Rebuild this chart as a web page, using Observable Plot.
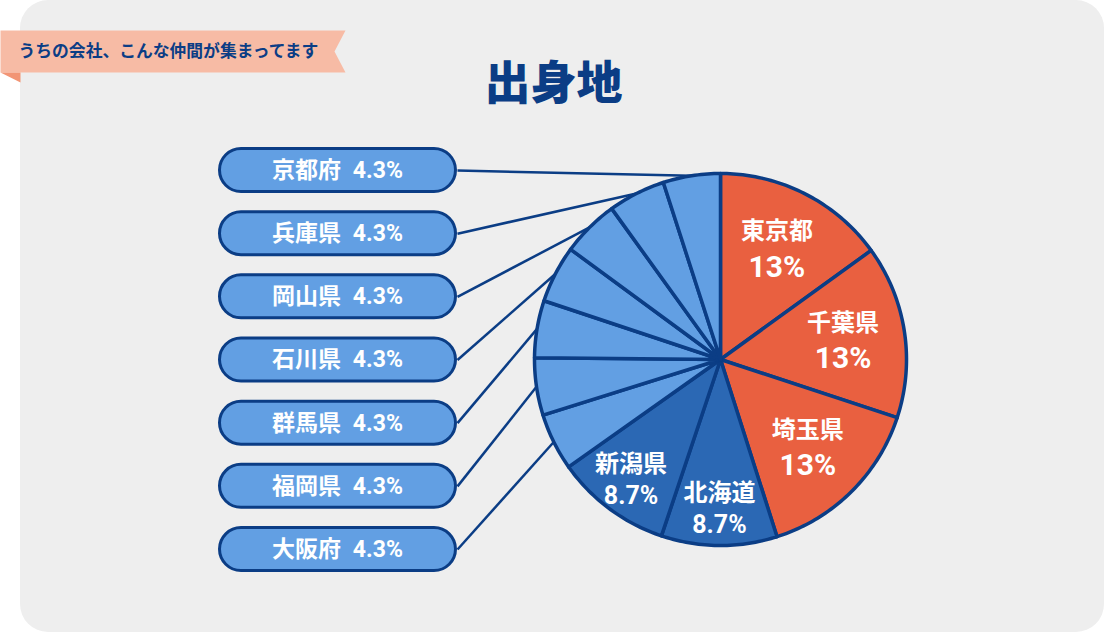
<!DOCTYPE html>
<html><head><meta charset="utf-8">
<script src="https://cdn.jsdelivr.net/npm/d3@7"></script>
<script src="https://cdn.jsdelivr.net/npm/@observablehq/plot@0.6"></script>
<style>html,body{margin:0;padding:0;background:#fff;} #chart svg{display:block}</style>
</head><body><div id="chart"></div>
<script>
// ---- data ----
const prefectures = ["東京都","千葉県","埼玉県","北海道","新潟県","大阪府","福岡県","群馬県","石川県","岡山県","兵庫県","京都府"];
const shares      = [13, 13, 13, 8.7, 8.7, 4.3, 4.3, 4.3, 4.3, 4.3, 4.3, 4.3];
const tiers       = ["top","top","top","mid","mid","minor","minor","minor","minor","minor","minor","minor"];
const calloutOrder = ["京都府","兵庫県","岡山県","石川県","群馬県","福岡県","大阪府"];
const title = "出身地";
const tagline = "うちの会社、こんな仲間が集まってます";

// ---- style / layout ----
const W = 1104, H = 632;
const navy = "#0b3d85";
const tierColors = {top: "#e96040", mid: "#2b68b4", minor: "#629fe3"};
const cx = 720, cy = 359, R = 186;
const labelRadius = {top: 124, mid: 150};
const font = "'Noto Sans CJK JP', 'Noto Sans', sans-serif";
const mixFont = "Roboto, 'Noto Sans CJK JP', sans-serif";

const data = prefectures.map((name, i) => ({name, share: shares[i], tier: tiers[i]}));
const arcs = d3.pie().sort(null).value(d => d.share)(data);
const polar = (a, r) => ({x: cx + r * Math.sin(a), y: cy - r * Math.cos(a)});

// slice polygons
const slicePts = arcs.flatMap((a, i) => {
  const n = Math.max(4, Math.ceil((a.endAngle - a.startAngle) / (Math.PI / 180)));
  const pts = [{x: cx, y: cy, i, tier: a.data.tier}];
  for (let k = 0; k <= n; k++) {
    const p = polar(a.startAngle + (a.endAngle - a.startAngle) * k / n, R);
    pts.push({...p, i, tier: a.data.tier});
  }
  return pts;
});

// labels inside big slices
const inLabels = arcs.filter(a => a.data.tier !== "minor").map(a => {
  const p = polar((a.startAngle + a.endAngle) / 2, labelRadius[a.data.tier]);
  return {...p, name: a.data.name, pct: a.data.share + "%", tier: a.data.tier};
});

// callout boxes
const boxX1 = 219.5, boxX2 = 455.5, boxH = 43, firstY = 170, stepY = 63.17;
const boxes = calloutOrder.map((name, j) => {
  const a = arcs.find(d => d.data.name === name);
  const yc = firstY + j * stepY;
  const end = polar((a.startAngle + a.endAngle) / 2, R);
  return {name, label: `${name}\u2002${a.data.share}%`, yc, y1: yc - boxH / 2, y2: yc + boxH / 2,
          lx1: boxX2 + 1.5, ly1: yc, lx2: end.x, ly2: end.y};
});

const panel = [{x1: 20, x2: W, y1: 0, y2: H}];
const ribbon = [[0,30],[345,30],[334,51],[345,72],[0,72]].map(([x,y]) => ({x, y}));
const fold = [[0,72],[20,72],[20,82]].map(([x,y]) => ({x, y}));

const chart = Plot.plot({
  width: W, height: H, margin: 0,
  x: {domain: [0, W], range: [0, W], axis: null},
  y: {domain: [0, H], range: [0, H], axis: null},
  color: {domain: ["top","mid","minor"], range: [tierColors.top, tierColors.mid, tierColors.minor]},
  style: {background: "#ffffff", fontFamily: font},
  marks: [
    Plot.rect(panel, {x1: "x1", x2: "x2", y1: "y1", y2: "y2", rx: 28, fill: "#eeeeee"}),
    Plot.line(ribbon, {x: "x", y: "y", curve: "linear-closed", fill: "#f7bba5", stroke: "none"}),
    Plot.line(fold, {x: "x", y: "y", curve: "linear-closed", fill: "#f29575", stroke: "none"}),
    Plot.text([tagline], {x: () => 18, y: () => 51, text: d => d, textAnchor: "start", fill: navy, fontSize: 16.8, fontWeight: "bold"}),
    Plot.text([title], {x: () => 553, y: () => 84, text: d => d, fill: navy, fontSize: 46, fontWeight: 900}),
    Plot.link(boxes, {x1: "lx1", y1: "ly1", x2: "lx2", y2: "ly2", stroke: navy, strokeWidth: 2.5}),
    Plot.line(slicePts, {x: "x", y: "y", z: "i", fill: "tier", stroke: navy, strokeWidth: 3.5, strokeLinejoin: "round", curve: "linear-closed"}),
    Plot.rect(boxes, {x1: () => boxX1, x2: () => boxX2, y1: "y1", y2: "y2", rx: 21.5, fill: tierColors.minor, stroke: navy, strokeWidth: 3}),
    Plot.text(boxes, {x: () => 337, y: "yc", text: "label", fill: "white", fontSize: 23, fontWeight: "bold", fontFamily: mixFont}),
    Plot.text(inLabels, {x: "x", y: d => d.y - (d.tier === "top" ? 17.5 : 16), text: "name", fill: "white", fontSize: d => 24, fontWeight: "bold"}),
    Plot.text(inLabels.filter(d => d.tier === "top"), {x: "x", y: d => d.y + 18, text: "pct", fill: "white", fontSize: 30, fontWeight: "bold", fontFamily: mixFont}),
    Plot.text(inLabels.filter(d => d.tier === "mid"), {x: "x", y: d => d.y + 16, text: "pct", fill: "white", fontSize: 25, fontWeight: "bold", fontFamily: mixFont})
  ]
});
document.getElementById("chart").append(chart);
</script>
</body></html>
